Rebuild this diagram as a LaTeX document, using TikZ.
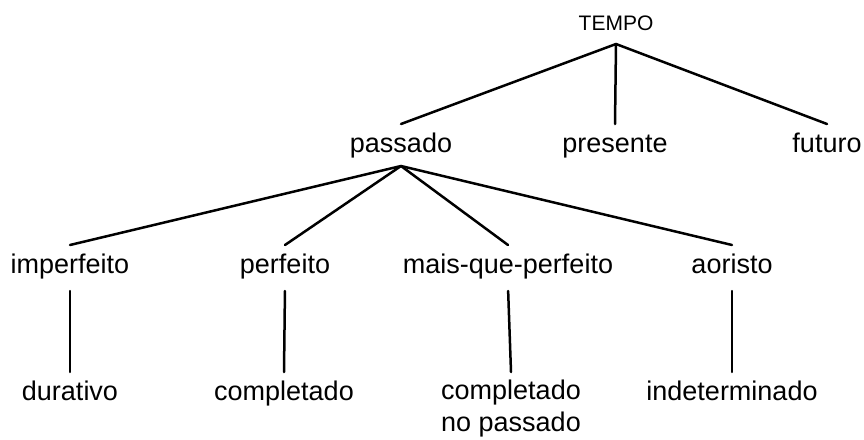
\documentclass[tikz,border=0pt]{standalone}
\usepackage{fontspec}
\setmainfont{Liberation Sans}
\begin{document}
\begin{tikzpicture}[x=1pt,y=-1pt,
  lbl/.style={inner xsep=0pt, inner ysep=8pt, outer sep=0pt, font=\fontsize{27}{32}\selectfont, align=center},
  row/.style={lbl, text height=20pt, text depth=6pt, anchor=base},
  edge/.style={line width=2.5pt, line cap=round},
  stem/.style={edge, shorten <=4pt}]
\useasboundingbox (0,0) rectangle (864,439);
\node[row, font=\fontsize{21}{25}\selectfont, text height=16pt] (tempo) at (616,30) {TEMPO};
\node[row] (passado) at (401,152) {passado};
\node[row] (presente) at (615,152) {presente};
\node[row] (futuro) at (827,152) {futuro};
\node[row] (imperf) at (70,273) {imperfeito};
\node[row] (perf) at (285,273) {perfeito};
\node[row] (mqp) at (508,273) {mais-que-perfeito};
\node[row] (aor) at (732,273) {aoristo};
\node[row] (dur) at (70,400) {durativo};
\node[row] (compl) at (284,400) {completado};
\node[lbl, anchor=north] (compl2) at (511,372) {completado\\no passado};
\node[row] (indet) at (732,400) {indeterminado};
\draw[edge] (tempo.south) -- (passado.north);
\draw[edge] (tempo.south) -- (presente.north);
\draw[edge] (tempo.south) -- (futuro.north);
\draw[edge] (passado.south) -- (imperf.north);
\draw[edge] (passado.south) -- (perf.north);
\draw[edge] (passado.south) -- (mqp.north);
\draw[edge] (passado.south) -- (aor.north);
\draw[stem] (imperf.south) -- (dur.north);
\draw[stem] (perf.south) -- (compl.north);
\draw[stem] (mqp.south) -- (compl2.north);
\draw[stem] (aor.south) -- (indet.north);
\end{tikzpicture}
\end{document}
